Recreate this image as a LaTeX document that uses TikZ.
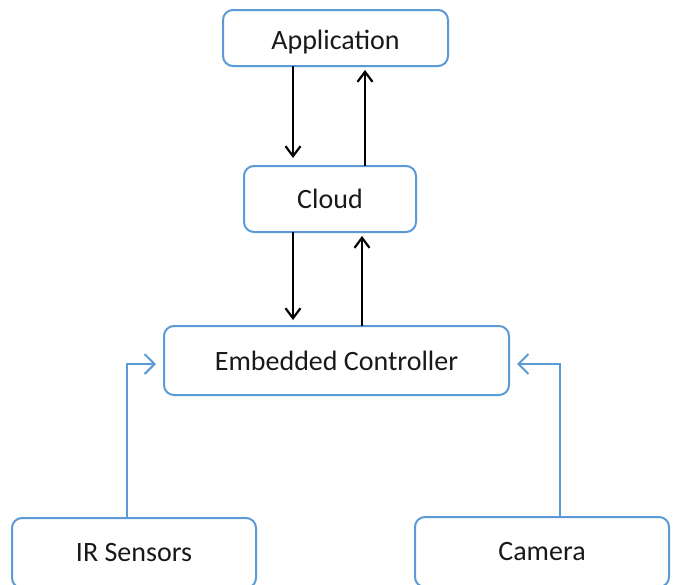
\documentclass[tikz,border=0pt]{standalone}
\usepackage{fontspec}
\setmainfont{Carlito}
\usetikzlibrary{arrows.meta,calc}
\definecolor{boxblue}{HTML}{5B9BD5}
\tikzset{
  box/.style={draw=boxblue, line width=2pt, rounded corners=10pt, fill=white,
    font=\fontsize{28}{32}\selectfont, text=black!90, inner sep=0pt},
  flow/.style={draw=black, line width=2.2pt, -{Straight Barb[length=10pt,width=15pt,line width=2.2pt]}},
  feed/.style={draw=boxblue, line width=2pt, -{Straight Barb[length=10pt,width=20pt,line width=2pt]}}
}
\begin{document}
\begin{tikzpicture}[x=1pt,y=-1pt]
\clip (0,0) rectangle (676,584);
\fill[white] (0,0) rectangle (676,584);
\node[box, minimum width=225pt, minimum height=56pt, text height=26pt, text depth=3pt] (app) at (335.5,38) {Application};
\node[box, minimum width=172pt, minimum height=66pt] (cloud) at (330,199) {Cloud};
\node[box, minimum width=345pt, minimum height=69pt] (ec) at (336.5,360.5) {Embedded Controller};
\node[box, minimum width=244pt, minimum height=70pt] (ir) at (134,553) {IR Sensors};
\node[box, minimum width=254pt, minimum height=70pt] (cam) at (542,552) {Camera};
% app <-> cloud
\coordinate (a1) at (293,66);
\coordinate (c1) at (293,158);
\coordinate (c2) at (365,166);
\coordinate (a2) at (365,70);
\draw[flow] (a1) -- (c1);
\draw[flow] (c2) -- (a2);
% cloud <-> ec
\coordinate (c3) at (293,232);
\coordinate (e1) at (293,320);
\coordinate (e2) at (362,326);
\coordinate (c4) at (362,236);
\draw[flow] (c3) -- (e1);
\draw[flow] (e2) -- (c4);
% sensors
\coordinate (ir1) at (127,518);
\coordinate (ec1) at (156,364);
\coordinate (cam1) at (560,517);
\coordinate (ec2) at (517,364);
\draw[feed] (ir1) |- (ec1);
\draw[feed] (cam1) |- (ec2);
\end{tikzpicture}
\end{document}
